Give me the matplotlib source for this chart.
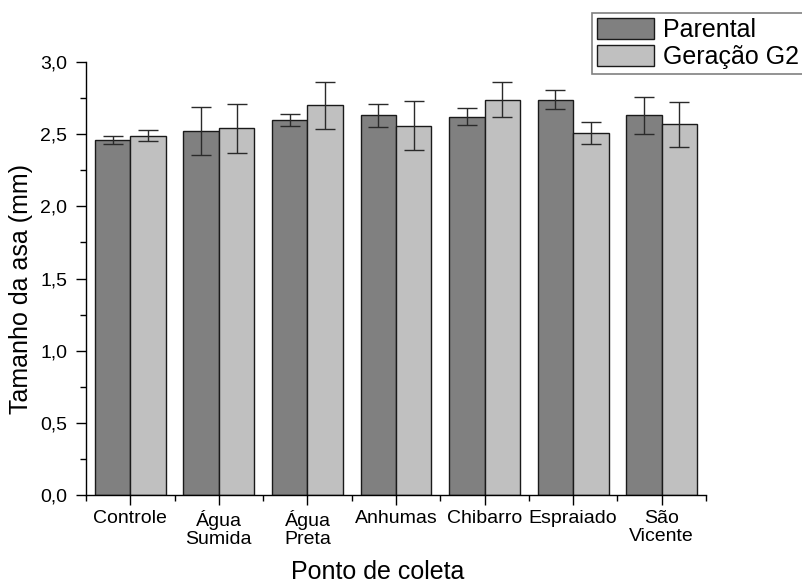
import numpy as np
import matplotlib
matplotlib.use('Agg')
import matplotlib.pyplot as plt
from matplotlib.ticker import MultipleLocator, FixedLocator, FuncFormatter

plt.rcParams['font.family'] = ['Liberation Sans', 'DejaVu Sans']

# Mean wing size (mm) and standard deviation per collection site
sites = ['Controle', 'Água\nSumida', 'Água\nPreta', 'Anhumas',
         'Chibarro', 'Espraiado', 'São\nVicente']
parental = [2.46, 2.52, 2.60, 2.63, 2.62, 2.74, 2.63]
parental_sd = [0.03, 0.165, 0.043, 0.078, 0.058, 0.065, 0.13]
g2 = [2.49, 2.54, 2.70, 2.56, 2.74, 2.51, 2.57]
g2_sd = [0.04, 0.17, 0.164, 0.168, 0.122, 0.077, 0.156]

fig = plt.figure(figsize=(8.03, 5.83), dpi=100)
ax = fig.add_axes([86 / 803, 1 - 495 / 583, 620 / 803, 433 / 583])

x = np.arange(len(sites))
w = 0.4
err_kw = dict(ecolor='#2a2a2a', elinewidth=1.0, capsize=7, capthick=1.0)
ax.bar(x - w / 2, parental, w, yerr=parental_sd, color='#808080',
       edgecolor='#1a1a1a', linewidth=1.0, label='Parental', error_kw=err_kw)
ax.bar(x + w / 2, g2, w, yerr=g2_sd, color='#c0c0c0',
       edgecolor='#1a1a1a', linewidth=1.0, label='Geração G2', error_kw=err_kw)

ax.set_xlim(-0.5, len(sites) - 0.5)
ax.set_ylim(0, 3.0)

for side in ['top', 'right']:
    ax.spines[side].set_visible(False)
for side in ['left', 'bottom']:
    ax.spines[side].set_linewidth(1.0)

ax.set_xticks(x)
ax.set_xticklabels(sites, fontsize=14, linespacing=1.05)
ax.xaxis.set_minor_locator(FixedLocator(np.arange(-0.5, len(sites), 1.0)))
ax.yaxis.set_major_locator(MultipleLocator(0.5))
ax.yaxis.set_minor_locator(MultipleLocator(0.25))
ax.yaxis.set_major_formatter(FuncFormatter(lambda v, p: f'{v:.1f}'.replace('.', ',')))
ax.tick_params(axis='y', which='major', labelsize=14, length=7, width=1.0, pad=6.5)
ax.tick_params(axis='x', which='major', length=7, width=1.0, pad=4)
ax.tick_params(which='minor', length=4, width=1.0)

ax.set_xlabel('Ponto de coleta', fontsize=18)
ax.set_ylabel('Tamanho da asa (mm)', fontsize=18)
ax.xaxis.set_label_coords(0.471, -0.150)
ax.yaxis.set_label_coords(-0.0855, 0.476)

leg = ax.legend(loc='upper left', bbox_to_anchor=(592 / 803, 1 - 12.7 / 583),
                bbox_transform=fig.transFigure, fontsize=18, frameon=True,
                fancybox=False, framealpha=1, edgecolor='#808080',
                borderpad=0.2, borderaxespad=0, handlelength=2.3,
                handleheight=0.95, handletextpad=0.35, labelspacing=0.1)
leg.get_frame().set_linewidth(1.2)

fig.savefig('out.png', dpi=100)
